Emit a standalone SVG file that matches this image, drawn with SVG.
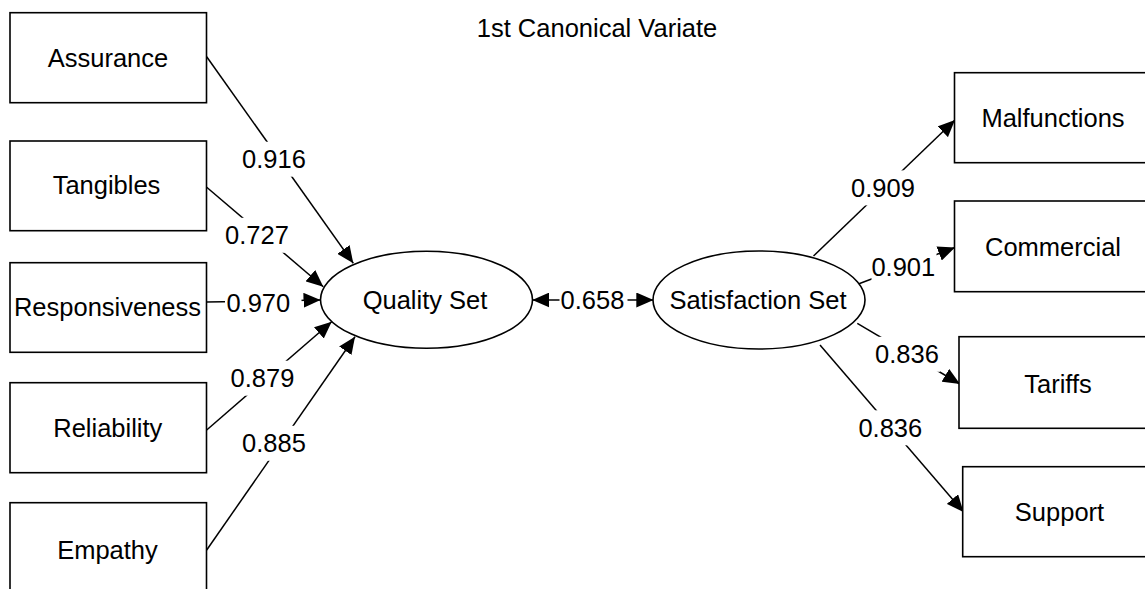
<svg xmlns="http://www.w3.org/2000/svg" width="1145" height="589" viewBox="0 0 1145 589">
  <style>
    text { font-family: "Liberation Sans", Arial, sans-serif; font-size: 25.5px; fill: #000; text-anchor: middle; }
    .box { fill: #fff; stroke: #000; stroke-width: 1.6; }
    .ell { fill: #fff; stroke: #000; stroke-width: 1.6; }
    .edge { stroke: #000; stroke-width: 1.5; fill: none; marker-end: url(#arrow); }
    .bi { marker-start: url(#arrowS); }
    .lblbg { fill: #fff; stroke: none; }
  </style>
  <defs>
    <marker id="arrow" viewBox="0 0 17 15" markerUnits="userSpaceOnUse" markerWidth="17" markerHeight="15" refX="17" refY="7.5" orient="auto">
      <path d="M0,0 L17,7.5 L0,15 Z" fill="#000"/>
    </marker>
    <marker id="arrowS" viewBox="0 0 17 15" markerUnits="userSpaceOnUse" markerWidth="17" markerHeight="15" refX="17" refY="7.5" orient="auto-start-reverse">
      <path d="M0,0 L17,7.5 L0,15 Z" fill="#000"/>
    </marker>
  </defs>
  <rect width="1145" height="589" fill="#fff"/>

  <text id="title" x="597" y="37">1st Canonical Variate</text>

  <g id="connectors">
    <line class="edge" x1="206.7" y1="56.7" x2="353.3" y2="263.3"/>
    <line class="edge" x1="206.7" y1="187.3" x2="323.3" y2="286.7"/>
    <line class="edge" x1="206.5" y1="302" x2="320.5" y2="300"/>
    <line class="edge" x1="206.7" y1="430" x2="331.7" y2="321.7"/>
    <line class="edge" x1="206.7" y1="550" x2="355" y2="336.7"/>
    <line class="edge bi" x1="532.3" y1="300" x2="653.3" y2="300"/>
    <line class="edge" x1="813.5" y1="256" x2="955" y2="120"/>
    <line class="edge" x1="858.3" y1="284" x2="955" y2="247.5"/>
    <line class="edge" x1="857.3" y1="323.3" x2="960" y2="384"/>
    <line class="edge" x1="820" y1="345" x2="963.5" y2="512"/>

    <g id="labels">
      <rect class="lblbg" x="241" y="141.7" width="66" height="35"/>
      <text x="274" y="168">0.916</text>
      <rect class="lblbg" x="224" y="217.8" width="66" height="35"/>
      <text x="257" y="244">0.727</text>
      <rect class="lblbg" x="225" y="285" width="76.5" height="35"/>
      <text x="258.3" y="312">0.970</text>
      <rect class="lblbg" x="229.5" y="360.7" width="66" height="35"/>
      <text x="262.5" y="387">0.879</text>
      <rect class="lblbg" x="241" y="425.8" width="66" height="35"/>
      <text x="274" y="452">0.885</text>
      <rect class="lblbg" x="559.5" y="282.5" width="68" height="35"/>
      <text x="592.5" y="309">0.658</text>
      <rect class="lblbg" x="850" y="170.4" width="66" height="35"/>
      <text x="883" y="197">0.909</text>
      <rect class="lblbg" x="871.5" y="249.5" width="65" height="35"/>
      <text x="903.3" y="276">0.901</text>
      <rect class="lblbg" x="874" y="336.8" width="66" height="35"/>
      <text x="907" y="363">0.836</text>
      <rect class="lblbg" x="857.3" y="410.3" width="66" height="35"/>
      <text x="890.3" y="437">0.836</text>
    </g>
  </g>

  <g id="assurance"><rect class="box" x="10" y="12.7" width="196.5" height="90"/><text x="108" y="67">Assurance</text></g>
  <g id="tangibles"><rect class="box" x="10" y="141" width="196.5" height="89.7"/><text x="106.5" y="194">Tangibles</text></g>
  <g id="responsiveness"><rect class="box" x="10" y="262.7" width="196.5" height="89.6"/><text x="107.5" y="316">Responsiveness</text></g>
  <g id="reliability"><rect class="box" x="10" y="382.7" width="196.5" height="90"/><text x="107.8" y="437">Reliability</text></g>
  <g id="empathy"><rect class="box" x="10" y="502.7" width="196.5" height="90"/><text x="107.5" y="559">Empathy</text></g>

  <g id="quality-set"><ellipse class="ell" cx="426.5" cy="299.8" rx="106" ry="48.5"/><text x="425" y="309">Quality Set</text></g>
  <g id="satisfaction-set"><ellipse class="ell" cx="759" cy="300" rx="106" ry="49"/><text x="758" y="309">Satisfaction Set</text></g>

  <g id="malfunctions"><rect class="box" x="954.5" y="72.7" width="200" height="90"/><text x="1053" y="127">Malfunctions</text></g>
  <g id="commercial"><rect class="box" x="954.5" y="201" width="200" height="90.7"/><text x="1053" y="256">Commercial</text></g>
  <g id="tariffs"><rect class="box" x="959" y="336.7" width="200" height="91.6"/><text x="1058" y="393">Tariffs</text></g>
  <g id="support"><rect class="box" x="962.7" y="466.7" width="200" height="90"/><text x="1059.5" y="521">Support</text></g>
</svg>
